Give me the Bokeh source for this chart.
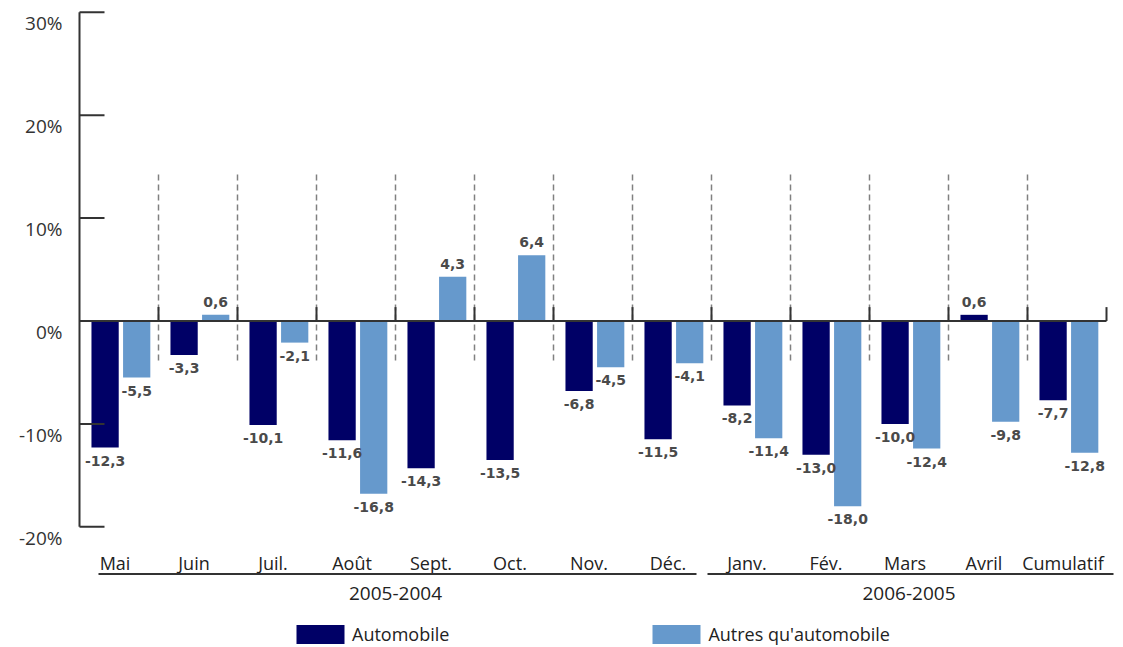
import numpy as np
from bokeh.plotting import figure
from bokeh.models import ColumnDataSource, Range1d, Legend, LegendItem
from bokeh.core.properties import value
from bokeh.embed import file_html
from bokeh.resources import INLINE

# ---------------- data ----------------
months = ["Mai", "Juin", "Juil.", "Août", "Sept.", "Oct.", "Nov.", "Déc.",
          "Janv.", "Fév.", "Mars", "Avril", "Cumulatif"]
automobile = [-12.3, -3.3, -10.1, -11.6, -14.3, -13.5, -6.8, -11.5,
              -8.2, -13.0, -10.0, 0.6, -7.7]
autres = [-5.5, 0.6, -2.1, -16.8, 4.3, 6.4, -4.5, -4.1,
          -11.4, -18.0, -12.4, -9.8, -12.8]
groups = ["2005-2004", "2006-2005"]
group_sizes = [8, 5]
y_ticks = [-20, -10, 0, 10, 20, 30]
y_tick_labels = ["-20%", "-10%", "0%", "10%", "20%", "30%"]
series_names = ["Automobile", "Autres qu'automobile"]

# ---------------- layout ----------------
W, H = 1120, 647
PX_X = 79.0        # pixels per category
X0_FIG = 79.0      # figure x of category boundary 0
PX_Y = 10.29       # pixels per percent
Y0_FIG = 320.5     # figure y of 0 %

DARK = "#000066"
LIGHT = "#6699cc"
AXIS = "#333333"
FONT = "Open Sans"


def px(fig_x):
    return (fig_x - X0_FIG) / PX_X


def py(fig_y):
    return (Y0_FIG - fig_y) / PX_Y


n = len(months)
centers = np.arange(n) + 0.5

p = figure(width=W, height=H,
           x_range=Range1d(-X0_FIG / PX_X, (W - X0_FIG) / PX_X),
           y_range=Range1d(-(H - Y0_FIG) / PX_Y, Y0_FIG / PX_Y),
           x_axis_type=None, y_axis_type=None,
           toolbar_location=None, output_backend="svg", min_border=0)
p.outline_line_color = None
p.grid.visible = False
p.background_fill_color = "white"
p.border_fill_color = "white"

# dashed separators between categories
bounds = np.arange(1, n)
p.segment(x0=bounds, y0=[py(360)] * len(bounds), x1=bounds, y1=[py(170)] * len(bounds),
          line_color="#808080", line_width=1.5, line_dash="6 4")

# bars
src = ColumnDataSource(dict(
    xa=centers - 0.176, xb=centers + 0.224,
    auto=automobile, autres=autres,
    la=[f"{v:.1f}".replace(".", ",") for v in automobile],
    lb=[f"{v:.1f}".replace(".", ",") for v in autres],
    oa=[13 if v < 0 else -13 for v in automobile],
    ob=[13 if v < 0 else -13 for v in autres],
))
r_auto = p.vbar(x="xa", top="auto", bottom=0, width=0.345, source=src,
                fill_color=DARK, line_color=None)
r_autres = p.vbar(x="xb", top="autres", bottom=0, width=0.345, source=src,
                  fill_color=LIGHT, line_color=None)

# zero line and boundary ticks
p.segment(x0=[0], y0=[0], x1=[n], y1=[0], line_color=AXIS, line_width=2)
tb = np.arange(1, n + 1)
p.segment(x0=tb, y0=[0] * len(tb), x1=tb, y1=[1.35] * len(tb),
          line_color=AXIS, line_width=2)

# y axis
p.segment(x0=[0], y0=[y_ticks[0]], x1=[0], y1=[y_ticks[-1]], line_color=AXIS, line_width=2)
p.segment(x0=[0] * len(y_ticks), y0=y_ticks, x1=[px(104)] * len(y_ticks), y1=y_ticks,
          line_color=AXIS, line_width=2)
p.text(x=[0] * len(y_ticks), y=y_ticks, text=y_tick_labels,
       x_offset=-17, y_offset=11, text_align="right", text_baseline="middle",
       text_font=value(FONT), text_font_size="19px", text_color="#333333")

# data labels
for xcol, ycol, tcol, ocol in (("xa", "auto", "la", "oa"), ("xb", "autres", "lb", "ob")):
    p.text(x=xcol, y=ycol, text=tcol, y_offset=ocol, source=src,
           text_align="center", text_baseline="middle",
           text_font=value("DejaVu Sans"), text_font_style="bold",
           text_font_size="14px", text_color="#4a4a4a")

# category labels
p.text(x=centers, y=[y_ticks[0]] * n, text=months,
       x_offset=-4, y_offset=36, text_align="center", text_baseline="middle",
       text_font=value(FONT), text_font_size="18px", text_color="#222222")

# group underlines and labels
p.segment(x0=[px(98), px(707)], y0=[py(573.5)] * 2, x1=[px(696), px(1113)], y1=[py(573.5)] * 2,
          line_color=AXIS, line_width=2)
gstart = np.cumsum([0] + group_sizes[:-1])
gcenter = gstart + np.array(group_sizes) / 2
p.text(x=gcenter, y=[py(593)] * len(groups), text=groups,
       text_align="center", text_baseline="middle",
       text_font=value(FONT), text_font_size="19px", text_color="#222222")

# legend
legend = Legend(items=[LegendItem(label=series_names[0], renderers=[r_auto]),
                       LegendItem(label=series_names[1], renderers=[r_autres])],
                orientation="horizontal", location=(290, 1),
                glyph_width=60, glyph_height=24, label_height=19,
                label_standoff=2, spacing=197, padding=0, margin=0,
                label_text_font=FONT, label_text_font_size="18px",
                label_text_color="#222222",
                background_fill_alpha=0, border_line_color=None)
p.add_layout(legend)

open("out.html", "w").write(file_html(p, INLINE))
